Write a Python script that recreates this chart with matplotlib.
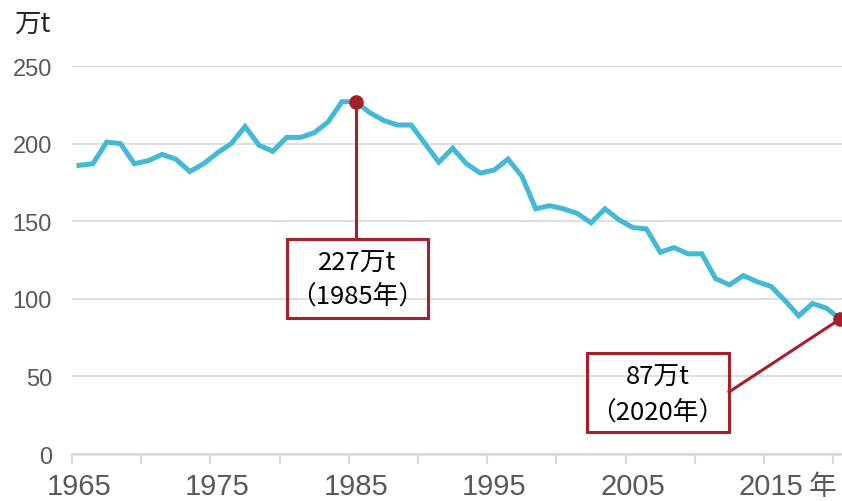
import matplotlib
matplotlib.use('Agg')
import matplotlib.pyplot as plt
from matplotlib.patches import Rectangle
from matplotlib.ticker import FixedLocator

plt.rcParams['font.family'] = ['Liberation Sans', 'Noto Sans CJK SC', 'DejaVu Sans']

# output per year, 万t
years = list(range(1965, 2021))
values = [186, 187, 201, 200, 187, 189, 193, 190, 182, 187,
          194, 200, 211, 199, 195, 204, 204, 207, 214, 227,
          227, 220, 215, 212, 212, 200, 188, 197, 187, 181,
          183, 190, 179, 158, 160, 158, 155, 149, 158, 151,
          146, 145, 130, 133, 129, 129, 113, 109, 115, 111,
          108, 99, 89, 97, 94, 87]

label_years = [1965, 1975, 1985, 1995, 2005, 2015]
peak_year, peak_val = 1985, 227
last_year, last_val = 2020, 87

line_color = '#43B9D6'
red = '#A61F2A'
grid_color = '#D9D9D9'
cjk = ['Noto Sans CJK SC', 'DejaVu Sans']

fig = plt.figure(figsize=(8.42, 5.02), dpi=100)
ax = fig.add_axes([0.0856, 0.0936, 0.9144, 0.7729])

ax.plot(years, values, color=line_color, lw=3.6, solid_joinstyle='miter', zorder=3)

ax.set_xlim(1964.5, 2020.13)
ax.set_ylim(0, 250)

# y axis
ax.set_yticks([0, 50, 100, 150, 200, 250])
ax.yaxis.grid(True, color=grid_color, lw=1.2, zorder=0)
ax.tick_params(axis='y', length=0, pad=14.5, labelsize=17, labelcolor='#595959')

# x axis: labels on categories, tick marks between them
ax.set_xticks(label_years)
ax.xaxis.set_minor_locator(FixedLocator([y - 0.5 for y in range(1965, 2021, 5)]))
ax.tick_params(axis='x', which='major', length=0, pad=13, labelsize=21, labelcolor='#595959')
ax.tick_params(axis='x', which='minor', length=7, width=1.5, color=grid_color)

for s in ['top', 'right', 'left']:
    ax.spines[s].set_visible(False)
ax.spines['bottom'].set_color(grid_color)
ax.spines['bottom'].set_linewidth(1.8)
ax.set_axisbelow(True)

ax.text(2017.7, -0.045, '年', transform=ax.get_xaxis_transform(), ha='left', va='top',
        fontsize=20, color='#595959', family=cjk)

fig.text(0.017, 0.952, '万t', fontsize=19, color='#262626', family=cjk, va='center', ha='left')

# annotation 1: peak
ax.plot([peak_year], [peak_val], 'o', color=red, ms=9.5, zorder=5, clip_on=False)
ax.plot([peak_year, peak_year], [peak_val, 138.5], color=red, lw=2.2, zorder=4)
ax.add_patch(Rectangle((1980.0, 87.6), 10.2, 50.9, fill=False, ec=red, lw=2.2, zorder=4))
ax.text(1985.1, 123.4, '227万t', ha='center', va='center', fontsize=18.5, family=cjk)
ax.text(1985.1, 102.4, '（1985年）', ha='center', va='center', fontsize=18.5, family=cjk)

# annotation 2: latest
ax.plot([last_year], [last_val], 'o', color=red, ms=9.5, zorder=5, clip_on=False)
ax.plot([2011.97, last_year], [40, last_val], color=red, lw=2.2, zorder=4, clip_on=False)
ax.add_patch(Rectangle((2001.68, 14.2), 10.29, 50.9, fill=False, ec=red, lw=2.2, zorder=4))
ax.text(2006.8, 49.5, '87万t', ha='center', va='center', fontsize=18.5, family=cjk)
ax.text(2006.8, 27.5, '（2020年）', ha='center', va='center', fontsize=18.5, family=cjk)

fig.savefig('out.png', dpi=100)
